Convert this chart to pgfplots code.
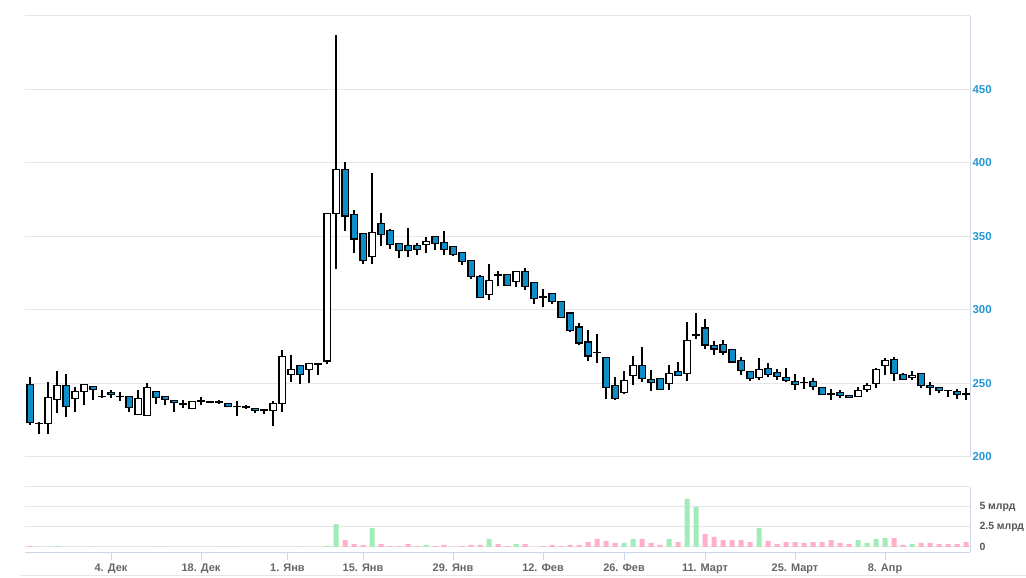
\documentclass[border=0pt]{standalone}
\usepackage{pgfplots}
\pgfplotsset{compat=1.18}
\usepackage{pgfplotstable}
\usepackage{fontspec}
\setmainfont{Liberation Sans}

\definecolor{candleblue}{RGB}{13,142,200}
\definecolor{volgreen}{RGB}{160,236,184}
\definecolor{volpink}{RGB}{255,176,200}
\definecolor{gridgray}{RGB}{230,230,230}
\definecolor{axisblue}{RGB}{204,214,235}
\definecolor{labelblue}{RGB}{34,150,210}
\definecolor{labelgray}{RGB}{85,85,85}
\definecolor{xlabelgray}{RGB}{102,102,102}

% i = trading day, o h l c = open high low close, v = volume (bn), u = 1 for an up day
\pgfplotstableread{
i o h l c v u
0 249.8 254.6 222.0 223.1 0.12 0
1 223.2 224.0 215.5 222.4 0 0
2 222.4 251.2 215.8 240.9 0 1
3 238.8 258.2 229.7 249.1 0.12 1
4 249.1 256.2 226.9 234.0 0 0
5 239.5 247.3 230.4 245.0 0 1
6 244.3 249.8 235.1 249.8 0 1
7 248.4 248.4 239.0 245.7 0 0
8 241.5 245.7 240.0 240.7 0 0
9 244.3 245.9 240.0 242.3 0 0
10 241.7 244.3 238.4 240.9 0 0
11 241.5 241.5 230.4 233.3 0 0
12 228.3 245.9 228.3 240.2 0 1
13 227.9 250.0 227.9 247.7 0 1
14 245.0 245.0 236.3 240.2 0 0
15 241.5 241.5 235.4 238.8 0 0
16 238.8 238.8 230.4 236.7 0 0
17 236.5 238.8 233.3 235.7 0 0
18 232.6 238.1 232.6 238.1 0 1
19 238.5 240.6 235.4 237.7 0 0
20 238.1 238.1 236.7 236.7 0 0
21 237.8 238.8 236.1 237.0 0 0
22 236.7 236.7 234.0 234.0 0 0
23 234.6 238.1 228.0 233.8 0 0
24 234.7 235.4 232.6 233.3 0 0
25 233.3 233.3 229.8 231.3 0 0
26 232.6 232.6 229.0 231.3 0 0
27 231.3 238.1 220.8 236.7 0 1
28 236.1 272.6 230.4 269.0 0 1
29 255.9 269.2 250.9 260.0 0 1
30 262.8 262.8 249.8 255.9 0 0
31 259.4 264.2 250.5 264.2 0 1
32 264.2 264.2 255.9 262.8 0 0
33 264.9 366.2 263.5 366.2 0.15 1
34 365.3 487.0 327.6 395.7 2.87 1
35 395.7 400.7 353.6 363.5 0.87 0
36 365.5 367.8 338.6 347.9 0.37 0
37 352.5 352.5 331.0 333.3 0.25 0
38 336.0 393.2 331.0 353.2 2.37 1
39 359.4 365.8 343.4 351.2 0.37 0
40 354.6 354.9 341.3 344.3 0.12 0
41 345.7 345.7 335.2 340.2 0.12 0
42 344.3 356.0 336.1 340.2 0.37 0
43 344.3 345.9 337.2 341.0 0.12 0
44 344.3 349.8 338.6 347.0 0.25 1
45 350.5 350.5 340.9 345.0 0.12 0
46 346.3 353.4 337.2 340.9 0.25 0
47 343.4 343.4 336.5 337.5 0 0
48 339.3 339.3 330.3 332.6 0.12 0
49 334.0 334.0 321.4 322.4 0.25 0
50 323.1 324.1 308.0 308.0 0.25 0
51 310.1 331.4 307.1 320.3 1.0 1
52 324.4 326.5 316.0 323.0 0.37 0
53 324.4 324.4 316.2 316.2 0.12 0
54 319.0 326.5 315.6 326.5 0.37 1
55 326.5 328.8 313.5 315.6 0.37 0
56 319.0 319.0 304.0 307.3 0 0
57 309.4 314.2 301.8 308.0 0.12 0
58 311.5 311.5 304.0 305.3 0.25 0
59 306.0 306.0 294.3 294.3 0.12 0
60 298.4 298.4 284.9 285.6 0.25 0
61 288.8 290.9 276.2 277.2 0.25 0
62 278.6 286.1 265.3 268.3 0.62 0
63 271.4 283.6 264.2 270.6 1.0 0
64 268.3 268.3 239.5 247.1 0.75 0
65 249.1 254.6 239.0 239.5 0.5 0
66 243.6 258.7 242.9 252.5 0.5 1
67 255.3 268.9 249.1 262.8 1.0 1
68 262.8 274.5 251.2 253.2 1.0 0
69 253.2 259.4 245.0 250.5 0.5 0
70 253.9 253.9 245.7 245.7 0.25 0
71 249.8 262.8 245.7 257.3 1.0 1
72 258.7 264.9 255.3 255.3 0.62 0
73 256.6 291.6 251.8 279.9 6.0 1
74 282.0 297.7 280.6 283.4 5.0 1
75 288.2 293.6 273.8 275.8 1.62 0
76 276.5 279.0 269.7 273.1 1.25 0
77 277.2 279.9 269.7 271.0 0.87 0
78 273.8 273.8 264.2 264.2 0.87 0
79 266.2 268.3 255.9 258.7 0.87 0
80 258.7 258.7 251.8 253.2 0.62 0
81 253.9 267.6 252.5 260.1 2.37 1
82 260.8 264.2 254.6 255.9 0.75 0
83 258.0 260.1 252.5 254.6 0.37 0
84 254.6 260.8 251.2 251.8 0.62 0
85 251.8 256.6 245.7 249.1 0.62 0
86 250.9 254.6 246.4 250.1 0.5 0
87 251.8 253.9 245.7 247.7 0.62 0
88 247.7 247.7 242.3 242.3 0.62 0
89 243.3 246.4 238.8 242.5 0.87 0
90 244.3 245.7 240.2 241.5 0.5 0
91 242.3 242.3 240.2 240.2 0.37 0
92 240.9 247.7 240.9 245.7 0.87 1
93 245.7 250.5 244.3 249.1 0.5 1
94 249.8 260.8 247.0 260.1 1.0 1
95 262.1 267.6 255.9 266.2 1.12 1
96 266.9 268.3 251.8 256.6 1.12 0
97 256.6 257.3 252.5 252.5 0.25 0
98 253.9 258.7 252.5 255.9 0.37 1
99 257.3 257.3 247.0 248.4 0.5 0
100 249.1 251.2 242.3 247.0 0.5 0
101 247.7 247.7 243.2 245.0 0.37 0
102 245.4 245.4 240.9 244.6 0.37 0
103 245.0 246.4 239.5 242.3 0.37 0
104 243.3 247.0 238.8 242.5 0.62 0
}\candles

\pgfplotsset{
  pane/.style={
    scale only axis, width=945bp,
    xmin=-0.556, xmax=104.444,
    axis y line*=right,
    y axis line style={draw=axisblue, line width=1bp, -},
    ymajorgrids, grid style={draw=gridgray, line width=1bp},
    ytick style={draw=none},
    clip=true,
  },
  % vertical strokes drawn as error bars: #1 colour, #2 stroke width
  candlebar/.style 2 args={draw=none, mark=none, forget plot,
    error bars/y dir=plus, error bars/y explicit, error bars/error mark=none,
    error bars/error bar style={draw=#1, line width=#2, line cap=butt}},
}

\begin{document}
\begin{tikzpicture}
\useasboundingbox (0,0) rectangle (1026bp,578bp);
\draw[gridgray, line width=1bp] (20bp,2bp) -- (1026bp,2bp);

% price pane
\begin{axis}[pane,
    at={(25bp,121bp)}, anchor=south west, height=441bp,
    ymin=200, ymax=500,
    axis x line=none, xtick=\empty,
    ytick={200,250,...,500},
    yticklabels={200,250,300,350,400,450,{}},
    yticklabel style={font=\fontsize{11.5}{13}\selectfont\bfseries, text=labelblue, xshift=-1bp},
  ]
  % wicks
  \addplot[candlebar={black}{1.2bp}] table[x=i, y=l, y error expr=\thisrow{h}-\thisrow{l}] {\candles};
  % body outline
  \addplot[candlebar={black}{7.4bp}]
    table[x=i, y expr={min(\thisrow{o},\thisrow{c})}, y error expr={abs(\thisrow{c}-\thisrow{o})}] {\candles};
  % body fill, up days
  \addplot[candlebar={white}{5bp}, restrict expr to domain={\thisrow{u}}{0.5:1.5}]
    table[x=i, y expr={min(\thisrow{o},\thisrow{c})+0.8}, y error expr={max(abs(\thisrow{c}-\thisrow{o})-1.6,0)}] {\candles};
  % body fill, down days
  \addplot[candlebar={candleblue}{5bp}, restrict expr to domain={\thisrow{u}}{-0.5:0.5}]
    table[x=i, y expr={min(\thisrow{o},\thisrow{c})+0.8}, y error expr={max(abs(\thisrow{c}-\thisrow{o})-1.6,0)}] {\candles};
\end{axis}

% volume pane
\begin{axis}[pane,
    at={(25bp,26bp)}, anchor=south west, height=65bp,
    ymin=-0.625, ymax=7.5,
    axis x line*=bottom,
    x axis line style={draw=axisblue, line width=1bp, -},
    xtick={9,19,28.6,37,47,57,66,75,85,95},
    xticklabels={4. Дек,18. Дек,1. Янв,15. Янв,29. Янв,12. Фев,26. Фев,11. Март,25. Март,8. Апр},
    xtick style={draw=axisblue, line width=1bp},
    tick align=outside, major tick length=8bp,
    xticklabel style={font=\fontsize{11}{13}\selectfont\bfseries, text=xlabelgray},
    ytick={0,2.5,5,7.5},
    yticklabels={0,2.5 млрд,5 млрд,{}},
    yticklabel style={font=\fontsize{10.5}{12}\selectfont\bfseries, text=labelgray, xshift=-2bp},
  ]
  \addplot[ybar, bar width=5bp, bar shift=0pt, fill=volgreen, draw=none,
    restrict expr to domain={\thisrow{u}}{0.5:1.5}] table[x=i, y=v] {\candles};
  \addplot[ybar, bar width=5bp, bar shift=0pt, fill=volpink, draw=none,
    restrict expr to domain={\thisrow{u}}{-0.5:0.5}] table[x=i, y=v] {\candles};
\end{axis}
\end{tikzpicture}
\end{document}
